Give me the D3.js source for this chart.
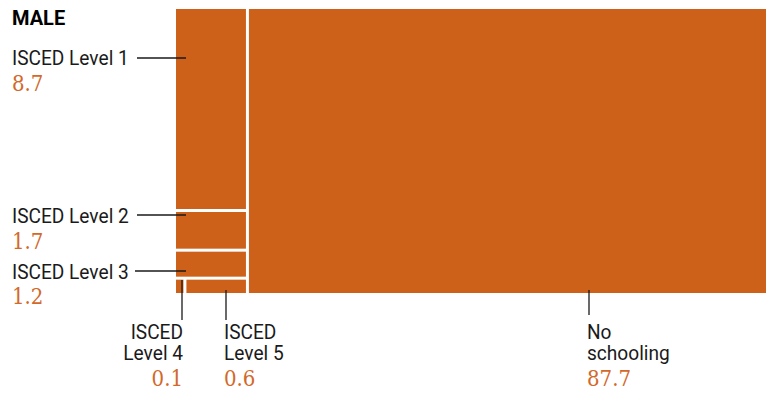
<!DOCTYPE html>
<html><head><meta charset="utf-8">
<script src="https://cdn.jsdelivr.net/npm/d3@7"></script>
<style>body{margin:0;background:#fff}svg{display:block}</style>
</head><body>
<script>
const title = "MALE";
const categories = ["ISCED Level 1","ISCED Level 2","ISCED Level 3","ISCED Level 4","ISCED Level 5","No schooling"];
const values = [8.7, 1.7, 1.2, 0.1, 0.6, 87.7];
const valueLabels = ["8.7","1.7","1.2","0.1","0.6","87.7"];

const W = 766, H = 394;
const fill = "#cd6119", valColor = "#d2692a", ink = "#1a1a1a";
const svg = d3.select("body").append("svg").attr("width", W).attr("height", H);

const leaf = i => ({name: categories[i], value: values[i], idx: i});
const data = {children: [
  {children: [leaf(0), leaf(1), leaf(2), {children: [leaf(3), leaf(4)]}]},
  leaf(5)
]};
const root = d3.hierarchy(data).sum(d => d.value || 0);
d3.treemap().tile(d3.treemapSliceDice).size([590, 284]).paddingInner(3).round(false)(root);

const g = svg.append("g").attr("transform", "translate(176,9)");
const leaves = root.leaves();
g.selectAll("rect").data(leaves).join("rect")
  .attr("x", d => d.x0).attr("y", d => d.y0)
  .attr("width", d => d.x1 - d.x0).attr("height", d => d.y1 - d.y0)
  .attr("fill", fill);

svg.append("text").attr("x", 12).attr("y", 25).text(title)
  .attr("font-family", "Roboto").attr("font-weight", 700).attr("font-size", 20).attr("fill", "#000");

const byIdx = {};
leaves.forEach(d => byIdx[d.data.idx] = d);

function label(x, y, lines, anchor) {
  const t = svg.append("g").attr("transform", `translate(${x},${y}) scale(0.91,1)`)
    .append("text").attr("text-anchor", anchor || "start")
    .attr("font-family", "Roboto").attr("font-size", 21).attr("fill", ink);
  lines.forEach((s, k) => t.append("tspan").attr("x", 0).attr("y", k * 22).text(s));
}
function valText(x, y, t, anchor) {
  svg.append("g").attr("transform", `translate(${x},${y}) scale(0.86,1)`)
    .append("text").text(t).attr("text-anchor", anchor || "start")
    .attr("font-family", "DejaVu Serif").attr("font-size", 23).attr("fill", valColor);
}

// left labels: [idx, labelBaseline, valueBaseline, lineY, lineX1]
const leftLab = [[0, 65, 90.5, 58, 137], [1, 222.5, 249, 215, 137], [2, 278.5, 304, 271, 135]];
leftLab.forEach(([i, yb, yv, ly, lx]) => {
  const r = byIdx[i];
  label(12, yb, [categories[i]]);
  valText(12, yv, valueLabels[i]);
  svg.append("line").attr("x1", lx).attr("x2", 176 + r.x0 + 10).attr("y1", ly).attr("y2", ly)
    .attr("stroke", ink).attr("stroke-width", 1.3);
});

// bottom labels: [idx, lineX, lineY1, lineY2, textX, anchor, lines]
const botLab = [
  [3, 182, 280, 320, 183, "end", ["ISCED", "Level 4"]],
  [4, 226, 290, 320, 224, "start", ["ISCED", "Level 5"]],
  [5, 589, 290, 315, 587, "start", ["No", "schooling"]]
];
botLab.forEach(([i, lx, y1, y2, tx, anchor, lines]) => {
  svg.append("line").attr("x1", lx).attr("x2", lx).attr("y1", y1).attr("y2", y2)
    .attr("stroke", ink).attr("stroke-width", 1.3);
  label(tx, 338.5, lines, anchor);
  valText(tx, 386, valueLabels[i], anchor);
});
</script>
</body></html>
